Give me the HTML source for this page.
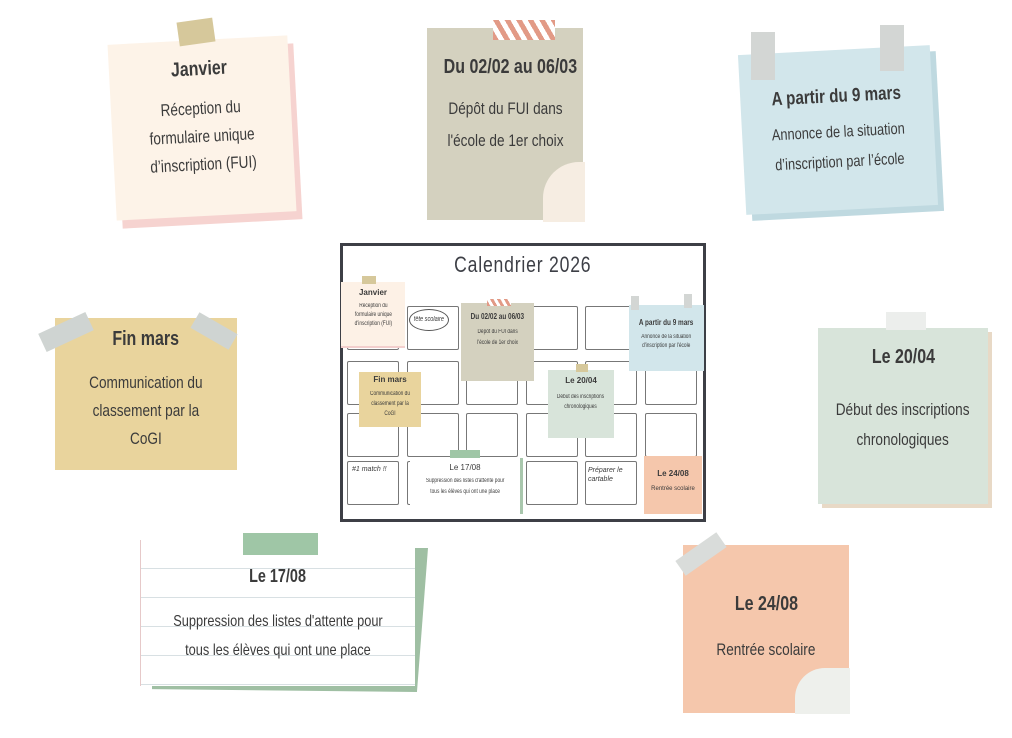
<!DOCTYPE html>
<html><head><meta charset="utf-8"><style>
*{margin:0;padding:0;box-sizing:border-box}
body{width:1012px;height:738px;background:#fff;position:relative;overflow:hidden;font-family:"Liberation Sans",sans-serif;color:#3b3b3b}
.a{position:absolute}
.n{position:absolute;text-align:center}
.t{font-weight:bold}
.s{display:inline-block;transform:scaleX(.8);white-space:nowrap}
.box{position:absolute;width:52px;height:44px;border:1.5px solid #777;border-radius:2px}
</style></head><body>
<!-- Janvier -->
<div class="a" style="left:118px;top:48px;width:180px;height:176px;background:#f6d3d0;transform:rotate(-3deg)"></div>
<div class="n" style="left:112px;top:40px;width:180px;height:176px;background:#fdf3e8;transform:rotate(-3deg)">
<div class="t" style="font-size:20px;margin-top:18px"><span class="s">Janvier</span></div>
<div style="font-size:17px;line-height:28px;margin-top:14px"><span class="s">Réception du<br>formulaire unique<br>d’inscription (FUI)</span></div></div>
<div class="a" style="left:178px;top:20px;width:36px;height:24px;background:#d6c89b;transform:rotate(-8deg)"></div>
<!-- Du 02/02 -->
<div class="n" style="left:427px;top:28px;width:156px;height:192px;background:#d4d1bf">
<div class="t" style="font-size:20px;margin-top:28px"><span class="s">Du 02/02 au 06/03</span></div>
<div style="font-size:17px;line-height:32px;margin-top:14px"><span class="s">Dépôt du FUI dans<br>l'école de 1er choix</span></div></div>
<div class="a" style="left:543px;top:162px;width:42px;height:60px;background:#f6ede2;border-radius:36px 0 0 0"></div>
<div class="a" style="left:493px;top:20px;width:62px;height:20px;background:repeating-linear-gradient(60deg,#e29a86 0 5px,#fff 5px 10px)"></div>
<!-- A partir du 9 mars -->
<div class="a" style="left:748px;top:56px;width:192px;height:160px;background:#bfd9e0;transform:rotate(-3deg)"></div>
<div class="n" style="left:742px;top:50px;width:192px;height:160px;background:#d2e6eb;transform:rotate(-3deg)">
<div class="t" style="font-size:19px;margin-top:36px"><span class="s">A partir du 9 mars</span></div>
<div style="font-size:16px;line-height:30px;margin-top:10px"><span class="s">Annonce de la situation<br>d’inscription par l’école</span></div></div>
<div class="a" style="left:751px;top:32px;width:24px;height:48px;background:#d3d6d4"></div>
<div class="a" style="left:880px;top:25px;width:24px;height:46px;background:#d3d6d4"></div>
<!-- Fin mars -->
<div class="n" style="left:55px;top:318px;width:182px;height:152px;background:#e9d49d">
<div class="t" style="font-size:20px;margin-top:10px"><span class="s">Fin mars</span></div>
<div style="font-size:17px;line-height:28px;margin-top:18px"><span class="s">Communication du<br>classement par la<br>CoGI</span></div></div>
<div class="a" style="left:40px;top:322px;width:52px;height:20px;background:#cfd4d2;transform:rotate(-25deg)"></div>
<div class="a" style="left:192px;top:322px;width:44px;height:18px;background:#cfd4d2;transform:rotate(30deg)"></div>
<!-- Le 20/04 -->
<div class="a" style="left:822px;top:332px;width:170px;height:176px;background:#e8d9c6"></div>
<div class="n" style="left:818px;top:328px;width:170px;height:176px;background:#d8e4da">
<div class="t" style="font-size:20px;margin-top:18px"><span class="s">Le 20/04</span></div>
<div style="font-size:17px;line-height:30px;margin-top:26px"><span class="s">Début des inscriptions<br>chronologiques</span></div></div>
<div class="a" style="left:886px;top:312px;width:40px;height:18px;background:#eceeec"></div>
<!-- Le 17/08 -->
<div class="a" style="left:152px;top:548px;width:276px;height:144px;background:#9fbfa3;clip-path:polygon(0 0,100% 0,96% 100%,0 98%)"></div>
<div class="n" style="left:140px;top:540px;width:275px;height:146px;background:repeating-linear-gradient(#fff 0 28px,#d8e0e3 28px 29px);border-left:1px solid #e6c9c9">
<div class="t" style="font-size:18px;margin-top:26px"><span class="s">Le 17/08</span></div>
<div style="font-size:16px;line-height:29px;margin-top:20px"><span class="s">Suppression des listes d'attente pour<br>tous les élèves qui ont une place</span></div></div>
<div class="a" style="left:243px;top:533px;width:75px;height:22px;background:#9fc6a6"></div>
<!-- Le 24/08 -->
<div class="n" style="left:683px;top:545px;width:166px;height:168px;background:#f5c7ac">
<div class="t" style="font-size:20px;margin-top:48px"><span class="s">Le 24/08</span></div>
<div style="font-size:17px;margin-top:24px"><span class="s">Rentrée scolaire</span></div></div>
<div class="a" style="left:795px;top:668px;width:55px;height:46px;background:#eef0ec;border-radius:30px 0 0 0"></div>
<div class="a" style="left:676px;top:545px;width:50px;height:18px;background:#d9dcda;transform:rotate(-35deg)"></div>

<!-- Calendar -->
<div class="a" style="left:340px;top:243px;width:366px;height:279px;border:3px solid #3d3f46;background:#fff"></div>
<div class="a" style="left:340px;top:252px;width:366px;text-align:center;font-size:22px;letter-spacing:1px;color:#3d3f46"><span class="s">Calendrier 2026</span></div>
<div class="box" style="left:347px;top:306px"></div><div class="box" style="left:407px;top:306px"></div><div class="box" style="left:466px;top:306px"></div><div class="box" style="left:526px;top:306px"></div><div class="box" style="left:585px;top:306px"></div><div class="box" style="left:645px;top:306px"></div>
<div class="box" style="left:347px;top:361px"></div><div class="box" style="left:407px;top:361px"></div><div class="box" style="left:466px;top:361px"></div><div class="box" style="left:526px;top:361px"></div><div class="box" style="left:585px;top:361px"></div><div class="box" style="left:645px;top:361px"></div>
<div class="box" style="left:347px;top:413px"></div><div class="box" style="left:407px;top:413px"></div><div class="box" style="left:466px;top:413px"></div><div class="box" style="left:526px;top:413px"></div><div class="box" style="left:585px;top:413px"></div><div class="box" style="left:645px;top:413px"></div>
<div class="box" style="left:347px;top:461px"></div><div class="box" style="left:407px;top:461px"></div><div class="box" style="left:466px;top:461px"></div><div class="box" style="left:526px;top:461px"></div><div class="box" style="left:585px;top:461px"></div><div class="box" style="left:645px;top:461px"></div>
<div class="a" style="left:409px;top:309px;width:40px;height:22px;border:1.2px solid #555;border-radius:50%;font-size:7px;font-style:italic;text-align:center;line-height:20px"><span class="s">fête scolaire</span></div>
<div class="a" style="left:352px;top:466px;font-size:7px;font-style:italic">#1 match !!</div>
<div class="a" style="left:588px;top:466px;font-size:7px;font-style:italic;line-height:9px">Préparer le<br>cartable</div>
<!-- mini notes -->
<div class="n" style="left:341px;top:282px;width:64px;height:66px;background:#fdf1e6;border-bottom:2px solid #f3cfcd;font-size:6px;line-height:9px"><div class="t" style="font-size:8px;margin-top:6px">Janvier</div><div style="margin-top:5px"><span class="s">Réception du<br>formulaire unique<br>d'inscription (FUI)</span></div></div>
<div class="a" style="left:362px;top:276px;width:14px;height:8px;background:#d6c89b"></div>
<div class="n" style="left:461px;top:303px;width:73px;height:78px;background:#d4d1bf;font-size:6px;line-height:11px"><div class="t" style="font-size:8px;margin-top:8px"><span class="s">Du 02/02 au 06/03</span></div><div style="margin-top:5px"><span class="s">Dépôt du FUI dans<br>l'école de 1er choix</span></div></div>
<div class="a" style="left:487px;top:299px;width:24px;height:7px;background:repeating-linear-gradient(60deg,#e29a86 0 3px,#fff 3px 6px)"></div>
<div class="n" style="left:629px;top:305px;width:75px;height:66px;background:#d2e6eb;font-size:6px;line-height:9px"><div class="t" style="font-size:8px;margin-top:13px"><span class="s">A partir du 9 mars</span></div><div style="margin-top:6px"><span class="s">Annonce de la situation<br>d'inscription par l'école</span></div></div>
<div class="a" style="left:631px;top:296px;width:8px;height:14px;background:#d3d6d4"></div><div class="a" style="left:684px;top:294px;width:8px;height:14px;background:#d3d6d4"></div>
<div class="n" style="left:359px;top:372px;width:62px;height:55px;background:#e9d49d;font-size:6px;line-height:10px"><div class="t" style="font-size:8px;margin-top:3px">Fin mars</div><div style="margin-top:4px"><span class="s">Communication du<br>classement par la<br>CoGI</span></div></div>
<div class="n" style="left:548px;top:370px;width:66px;height:68px;background:#d8e4da;font-size:6px;line-height:10px"><div class="t" style="font-size:8px;margin-top:6px">Le 20/04</div><div style="margin-top:6px"><span class="s">Début des inscriptions<br>chronologiques</span></div></div>
<div class="a" style="left:576px;top:364px;width:12px;height:8px;background:#d6c89b"></div>
<div class="n" style="left:410px;top:458px;width:113px;height:56px;background:#fff;border-right:3px solid #a9c7ad;font-size:6px;line-height:11px"><div style="font-size:8px;margin-top:4px">Le 17/08</div><div style="margin-top:3px"><span class="s">Suppression des listes d'attente pour<br>tous les élèves qui ont une place</span></div></div>
<div class="a" style="left:450px;top:450px;width:30px;height:8px;background:#9fc6a6"></div>
<div class="n" style="left:644px;top:456px;width:58px;height:58px;background:#f5c7ac;font-size:6px"><div class="t" style="font-size:8px;margin-top:13px">Le 24/08</div><div style="margin-top:8px">Rentrée scolaire</div></div>
</body></html>
